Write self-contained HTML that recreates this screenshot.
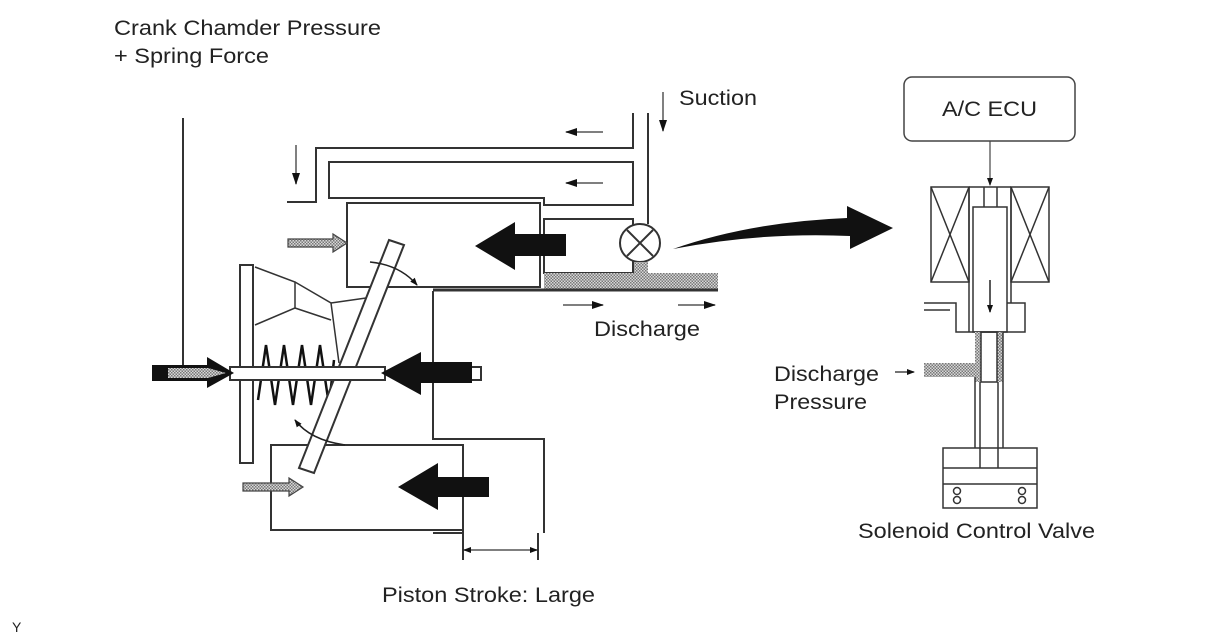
<!DOCTYPE html>
<html><head><meta charset="utf-8"><style>
html,body{margin:0;padding:0;background:#fff;}
svg{display:block;}
text{font-family:"Liberation Sans",Arial,sans-serif;font-size:21px;fill:#222;}
</style></head><body>
<svg width="1212" height="634" viewBox="0 0 1212 634" xmlns="http://www.w3.org/2000/svg">
<defs>
<pattern id="h" width="3" height="3" patternUnits="userSpaceOnUse">
<rect width="3" height="3" fill="#d8d8d8"/><rect width="1.5" height="1.5" fill="#777"/><rect x="1.5" y="1.5" width="1.5" height="1.5" fill="#777"/>
</pattern>
<marker id="a" markerWidth="8" markerHeight="6" refX="7" refY="3" orient="auto-start-reverse" markerUnits="userSpaceOnUse"><path d="M0,0 L8,3 L0,6z" fill="#111"/></marker>
<marker id="a2" markerWidth="12" markerHeight="8" refX="11" refY="4" orient="auto" markerUnits="userSpaceOnUse"><path d="M0,0 L12,4 L0,8z" fill="#111"/></marker>
</defs>
<g fill="none" stroke="#333" stroke-width="2">
<line x1="183" y1="118" x2="183" y2="368"/>
<polyline points="287,202 316,202 316,148 633,148 633,113"/>
<polygon points="329,162 633,162 633,205 544,205 544,198 329,198"/>
<line x1="648" y1="113" x2="648" y2="224"/>
<rect x="347" y="203" width="193" height="84"/>
<rect x="544" y="219" width="89" height="54"/>
<ellipse cx="640" cy="243" rx="20" ry="19" fill="#fff"/>
<line x1="627" y1="230" x2="653" y2="256"/><line x1="653" y1="230" x2="627" y2="256"/>
<polyline points="433,291 433,439 544,439 544,533"/>
<rect x="271" y="445" width="192" height="85"/>
<line x1="463" y1="530" x2="463" y2="560"/>
<line x1="538" y1="533" x2="538" y2="560"/>
<line x1="433" y1="533" x2="463" y2="533"/>
</g>
<rect x="544" y="273" width="174" height="16" fill="url(#h)"/>
<rect x="634" y="262" width="14" height="12" fill="url(#h)"/>
<line x1="433" y1="290" x2="718" y2="290" stroke="#333" stroke-width="3"/>
<g stroke="#555" stroke-width="1.5">
<line x1="603" y1="132" x2="566" y2="132" marker-end="url(#a2)"/>
<line x1="603" y1="183" x2="566" y2="183" marker-end="url(#a2)"/>
<line x1="296" y1="145" x2="296" y2="184" marker-end="url(#a2)"/>
<line x1="663" y1="92" x2="663" y2="131" marker-end="url(#a2)"/>
<line x1="563" y1="305" x2="603" y2="305" marker-end="url(#a2)"/>
<line x1="678" y1="305" x2="715" y2="305" marker-end="url(#a2)"/>
<line x1="464" y1="550" x2="537" y2="550" marker-end="url(#a)" marker-start="url(#a)"/>
</g>
<rect x="240" y="265" width="13" height="198" fill="#fff" stroke="#333" stroke-width="2"/>
<g fill="none" stroke="#333" stroke-width="1.5">
<polyline points="255,267 295,282 295,308 255,325"/>
<polyline points="295,282 331,303 339,363"/>
<polyline points="295,308 331,320"/>
<line x1="331" y1="303" x2="366" y2="298"/>
</g>
<polyline points="258,400 266,345 275,405 284,345 293,405 302,345 311,405 320,345 329,405 334,360" fill="none" stroke="#111" stroke-width="2.5"/>
<polygon points="389,240 404,245 314,473 299,468" fill="#fff" stroke="#333" stroke-width="2"/>
<rect x="230" y="367" width="155" height="13" fill="#fff" stroke="#333" stroke-width="2"/>
<rect x="470" y="367" width="11" height="13" fill="#fff" stroke="#333" stroke-width="2"/>
<path d="M370,262 Q400,265 417,285" fill="none" stroke="#222" stroke-width="1.5" marker-end="url(#a)"/>
<path d="M345,445 Q310,440 295,420" fill="none" stroke="#222" stroke-width="1.5" marker-end="url(#a)"/>
<polygon points="475,246 515,222 515,234 566,234 566,256 515,256 515,270" fill="#111"/>
<polygon points="381,373 421,352 421,362 472,362 472,383 421,383 421,395" fill="#111"/>
<polygon points="398,487 438,463 438,477 489,477 489,497 438,497 438,510" fill="#111"/>
<polygon points="234,373 207,357 207,365 152,365 152,381 207,381 207,388" fill="#111"/>
<polygon points="226,373 208,368 168,368 168,378 208,378" fill="url(#h)"/>
<polygon points="288,239 333,239 333,234 347,243 333,252 333,247 288,247" fill="url(#h)" stroke="#444" stroke-width="1.2"/>
<polygon points="243,483 289,483 289,478 303,487 289,496 289,491 243,491" fill="url(#h)" stroke="#444" stroke-width="1.2"/>
<path d="M673,249 Q750,222 847,218 L847,206 L893,228 L850,249 L850,236 Q760,232 673,249z" fill="#111"/>
<rect x="904" y="77" width="171" height="64" rx="8" fill="#fff" stroke="#444" stroke-width="1.5"/>
<line x1="990" y1="141" x2="990" y2="185" stroke="#444" stroke-width="1.2" marker-end="url(#a)"/>
<g fill="none" stroke="#333" stroke-width="1.5">
<rect x="931" y="187" width="38" height="95"/>
<line x1="931" y1="187" x2="969" y2="282"/><line x1="969" y1="187" x2="931" y2="282"/>
<rect x="1011" y="187" width="38" height="95"/>
<line x1="1011" y1="187" x2="1049" y2="282"/><line x1="1049" y1="187" x2="1011" y2="282"/>
<line x1="969" y1="187" x2="1011" y2="187"/>
<line x1="984" y1="187" x2="984" y2="207"/><line x1="997" y1="187" x2="997" y2="207"/>
<line x1="969" y1="187" x2="969" y2="332"/><line x1="1011" y1="187" x2="1011" y2="303"/>
<rect x="973" y="207" width="34" height="125" fill="#fff"/>
<polyline points="924,303 956,303 956,332 1025,332 1025,303 1007,303"/>
<line x1="924" y1="310" x2="950" y2="310"/>
</g>
<line x1="990" y1="280" x2="990" y2="312" stroke="#222" stroke-width="1.5" marker-end="url(#a)"/>
<rect x="975" y="332" width="6" height="50" fill="url(#h)"/>
<rect x="997" y="332" width="6" height="50" fill="url(#h)"/>
<rect x="924" y="363" width="52" height="14" fill="url(#h)"/>
<g fill="none" stroke="#333" stroke-width="1.5">
<rect x="981" y="332" width="16" height="50"/>
<line x1="975" y1="377" x2="975" y2="448"/><line x1="1003" y1="332" x2="1003" y2="448"/>
<line x1="980" y1="382" x2="980" y2="468"/><line x1="998" y1="382" x2="998" y2="468"/>
<rect x="943" y="448" width="94" height="60"/>
<line x1="943" y1="468" x2="1037" y2="468"/><line x1="943" y1="484" x2="1037" y2="484"/>
<circle cx="957" cy="491" r="3.5"/><circle cx="957" cy="500" r="3.5"/>
<circle cx="1022" cy="491" r="3.5"/><circle cx="1022" cy="500" r="3.5"/>
</g>
<line x1="895" y1="372" x2="914" y2="372" stroke="#222" stroke-width="1.2" marker-end="url(#a)"/>
<text x="114" y="35" textLength="267" lengthAdjust="spacingAndGlyphs">Crank Chamder Pressure</text>
<text x="114" y="63" textLength="155" lengthAdjust="spacingAndGlyphs">+ Spring Force</text>
<text x="679" y="105" textLength="78" lengthAdjust="spacingAndGlyphs">Suction</text>
<text x="594" y="336" textLength="106" lengthAdjust="spacingAndGlyphs">Discharge</text>
<text x="382" y="602" textLength="213" lengthAdjust="spacingAndGlyphs">Piston Stroke: Large</text>
<text x="942" y="116" textLength="95" lengthAdjust="spacingAndGlyphs">A/C ECU</text>
<text x="774" y="381" textLength="105" lengthAdjust="spacingAndGlyphs">Discharge</text>
<text x="774" y="409" textLength="93" lengthAdjust="spacingAndGlyphs">Pressure</text>
<text x="858" y="538" textLength="237" lengthAdjust="spacingAndGlyphs">Solenoid Control Valve</text>
<text x="12" y="632" style="font-size:14px">Y</text>
</svg>
</body></html>
